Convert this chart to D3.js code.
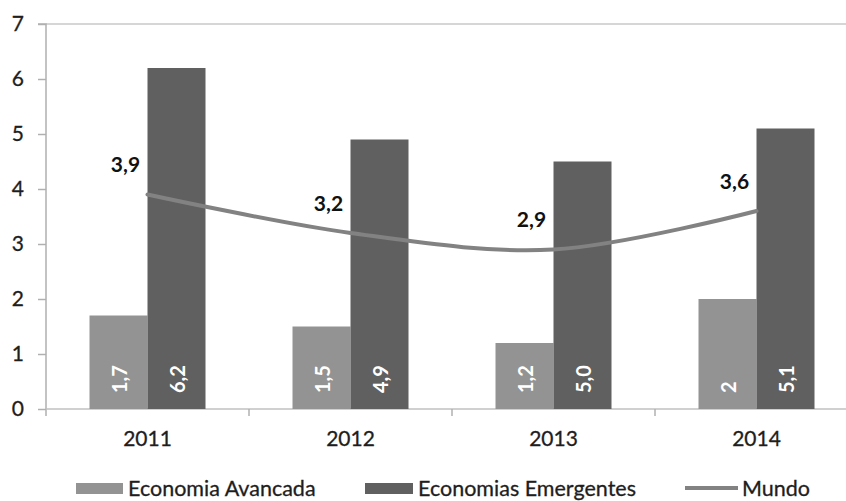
<!DOCTYPE html>
<html>
<head>
<meta charset="utf-8">
<script src="https://cdn.jsdelivr.net/npm/d3@7"></script>
<style>
  html, body { margin: 0; padding: 0; background: #fff; }
  svg { display: block; }
  text { font-family: Lato, "Open Sans", sans-serif; }
</style>
</head>
<body>
<svg id="chart" width="846" height="501"></svg>
<script>
const categories = ["2011", "2012", "2013", "2014"];
const seriesNames = ["Economia Avancada", "Economias Emergentes", "Mundo"];
const avancada = [1.7, 1.5, 1.2, 2.0];
const avancadaLabels = ["1,7", "1,5", "1,2", "2"];
const emergentes = [6.2, 4.9, 4.5, 5.1];
const emergentesLabels = ["6,2", "4,9", "5,0", "5,1"];
const mundo = [3.9, 3.2, 2.9, 3.6];
const mundoLabels = ["3,9", "3,2", "2,9", "3,6"];
const yTicks = [0, 1, 2, 3, 4, 5, 6, 7];

const colors = { adv: "#939393", emg: "#5f605f", line: "#828282" };
const textColor = "#1e1e1e";

const svg = d3.select("#chart");
const plotLeft = 46, bandStep = 203, plotTop = 24, plotBottom = 409;

const x = d3.scaleBand().domain(categories).range([plotLeft, plotLeft + bandStep * categories.length]).padding(0);
const x1 = d3.scaleBand().domain(["adv", "emg"]).range([0, x.bandwidth()]).paddingInner(0).paddingOuter(0.75);
const y = d3.scaleLinear().domain([0, 7]).range([plotBottom, plotTop]);

// top gridline at 7
svg.append("line").attr("x1", plotLeft).attr("x2", 846).attr("y1", y(7)).attr("y2", y(7))
  .attr("stroke", "#c8c8c8").attr("stroke-width", 1.5);

// Y axis
const yAxis = d3.axisLeft(y).tickValues(yTicks).tickSize(8).tickPadding(14).tickFormat(d3.format("d"));
const gy = svg.append("g").attr("transform", `translate(${plotLeft},0)`).call(yAxis);
gy.select(".domain").attr("stroke", "#b0b0b0").attr("stroke-width", 1.5).attr("d", `M-8,${y(7)}H0V${plotBottom + 7}`);
gy.selectAll(".tick line").attr("stroke", "#b0b0b0").attr("stroke-width", 1.5);
gy.selectAll(".tick text").attr("font-size", 21).attr("fill", textColor)
  .attr("stroke", textColor).attr("stroke-width", 0.3).style("font-family", "Lato, sans-serif");

// X axis
const xAxis = d3.axisBottom(x).tickSize(0).tickPadding(22);
const gx = svg.append("g").attr("transform", `translate(0,${plotBottom})`).call(xAxis);
gx.select(".domain").attr("stroke", "#c0c0c0").attr("stroke-width", 1.5).attr("d", `M${plotLeft},0H846`);
gx.selectAll(".tick text").attr("font-size", 21).attr("fill", textColor)
  .attr("stroke", textColor).attr("stroke-width", 0.3).style("font-family", "Lato, sans-serif");
// category separator ticks
svg.append("g").selectAll("line").data(categories.slice(1)).join("line")
  .attr("x1", d => x(d)).attr("x2", d => x(d))
  .attr("y1", plotBottom).attr("y2", plotBottom + 7)
  .attr("stroke", "#b0b0b0").attr("stroke-width", 1.5);

// Bars
const barData = [];
categories.forEach((c, i) => {
  barData.push({ cat: c, key: "adv", v: avancada[i], label: avancadaLabels[i] });
  barData.push({ cat: c, key: "emg", v: emergentes[i], label: emergentesLabels[i] });
});
const bars = svg.append("g");
bars.selectAll("rect").data(barData).join("rect")
  .attr("x", d => x(d.cat) + x1(d.key))
  .attr("width", x1.bandwidth())
  .attr("y", d => y(d.v))
  .attr("height", d => y(0) - y(d.v))
  .attr("fill", d => colors[d.key]);

bars.selectAll("text").data(barData).join("text")
  .attr("transform", d => `translate(${x(d.cat) + x1(d.key) + x1.bandwidth() / 2},${y(0) - 16}) rotate(-90)`)
  .attr("text-anchor", "start")
  .attr("dominant-baseline", "central")
  .attr("font-size", 20)
  .attr("font-weight", "bold")
  .attr("fill", "#fff")
  .text(d => d.label);

// Line
const cx = c => x(c) + x.bandwidth() / 2;
const line = d3.line().x((d, i) => cx(categories[i])).y(d => y(d)).curve(d3.curveCatmullRom.alpha(0));
svg.append("path").datum(mundo).attr("d", line)
  .attr("fill", "none").attr("stroke", colors.line).attr("stroke-width", 4).attr("stroke-linecap", "round");

svg.append("g").selectAll("text").data(mundo).join("text")
  .attr("x", (d, i) => cx(categories[i]) - 22)
  .attr("y", d => y(d) - 31)
  .attr("text-anchor", "middle")
  .attr("dominant-baseline", "central")
  .attr("font-size", 21)
  .attr("font-weight", "bold")
  .attr("fill", "#111")
  .text((d, i) => mundoLabels[i]);

// Legend
const leg = svg.append("g");
const ly = 488;
const legFont = 21.5;
leg.append("rect").attr("x", 76).attr("y", ly - 5).attr("width", 47).attr("height", 11).attr("fill", colors.adv);
leg.append("text").attr("x", 128).attr("y", ly).attr("dominant-baseline", "central").attr("font-size", legFont)
  .attr("fill", textColor).attr("stroke", textColor).attr("stroke-width", 0.3).text(seriesNames[0]);
leg.append("rect").attr("x", 365).attr("y", ly - 5).attr("width", 48).attr("height", 11).attr("fill", colors.emg);
leg.append("text").attr("x", 418).attr("y", ly).attr("dominant-baseline", "central").attr("font-size", legFont)
  .attr("fill", textColor).attr("stroke", textColor).attr("stroke-width", 0.3).text(seriesNames[1]);
leg.append("line").attr("x1", 685).attr("x2", 738).attr("y1", ly).attr("y2", ly).attr("stroke", colors.line).attr("stroke-width", 4);
leg.append("text").attr("x", 742).attr("y", ly).attr("dominant-baseline", "central").attr("font-size", legFont)
  .attr("fill", textColor).attr("stroke", textColor).attr("stroke-width", 0.3).text(seriesNames[2]);
</script>
</body>
</html>
